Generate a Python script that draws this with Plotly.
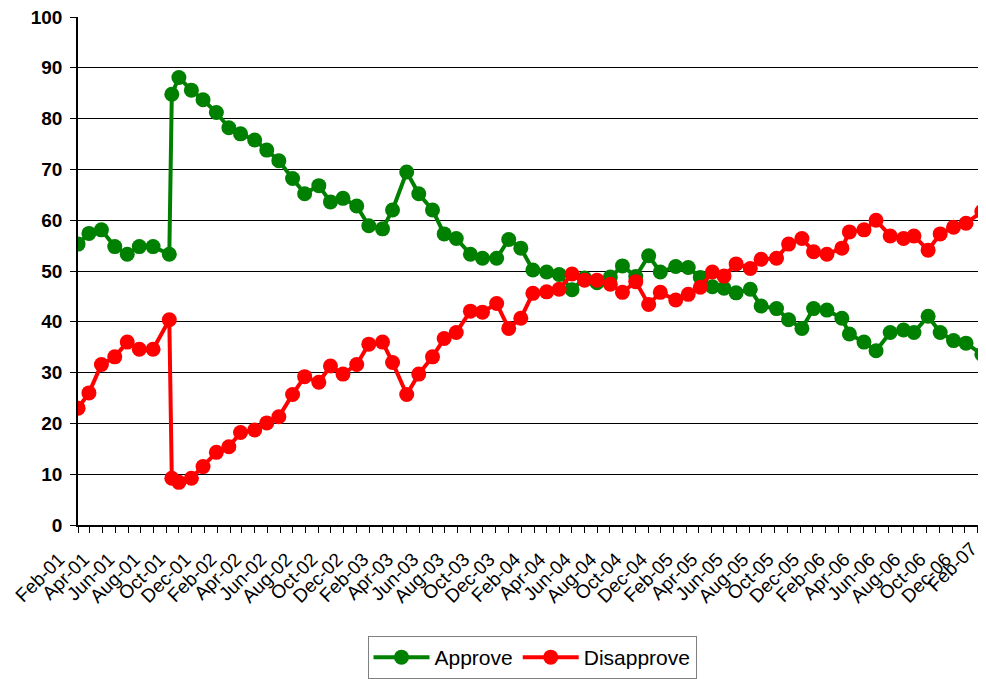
import plotly.graph_objects as go
from datetime import datetime, timedelta

# Poll dates
poll_dates = [
    "2001-02-01", "2001-02-27", "2001-03-29", "2001-04-30", "2001-05-30", "2001-06-28",
    "2001-07-31", "2001-09-08", "2001-09-14", "2001-10-01", "2001-10-31", "2001-11-28",
    "2001-12-30", "2002-01-29", "2002-02-26", "2002-04-01", "2002-04-30", "2002-05-29",
    "2002-07-01", "2002-07-30", "2002-09-02", "2002-09-30", "2002-10-30", "2002-12-02",
    "2002-12-31", "2003-02-02", "2003-02-26", "2003-04-01", "2003-04-30", "2003-06-02",
    "2003-06-30", "2003-07-29", "2003-09-01", "2003-09-30", "2003-11-03", "2003-12-02",
    "2003-12-31", "2004-01-29", "2004-03-02", "2004-04-01", "2004-05-02", "2004-06-01",
    "2004-07-01", "2004-08-02", "2004-08-31", "2004-10-02", "2004-11-02", "2004-11-30",
    "2005-01-06", "2005-02-05", "2005-03-06", "2005-04-04", "2005-05-02", "2005-05-31",
    "2005-07-04", "2005-07-30", "2005-09-05", "2005-10-04", "2005-11-05", "2005-12-03",
    "2006-01-04", "2006-02-09", "2006-02-27", "2006-04-03", "2006-05-02", "2006-06-05",
    "2006-07-07", "2006-08-01", "2006-09-04", "2006-10-03", "2006-11-04", "2006-12-04",
    "2007-01-11",
]

approve = [
    55.3, 57.4, 58.1, 54.8, 53.3, 54.8, 54.8, 53.3, 84.8, 88.1, 85.6, 83.7,
    81.2, 78.2, 77.0, 75.8, 73.8, 71.7, 68.2, 65.2, 66.8, 63.6, 64.3, 62.8,
    58.9, 58.3, 62.0, 69.5, 65.2, 62.0, 57.3, 56.4, 53.3, 52.5, 52.5, 56.2,
    54.5, 50.2, 49.8, 49.3, 46.3, 48.6, 47.7, 48.8, 51.0, 48.9, 53.0, 49.8,
    50.9, 50.7, 48.7, 46.9, 46.6, 45.7, 46.4, 43.1, 42.6, 40.4, 38.7, 42.6,
    42.3, 40.7, 37.6, 36.0, 34.3, 37.9, 38.4, 37.9, 41.1, 37.9, 36.3, 35.8,
    33.6,
]

disapprove = [
    23.0, 26.0, 31.6, 33.1, 36.0, 34.6, 34.6, 40.4, 9.2, 8.4, 9.2, 11.5,
    14.3, 15.4, 18.2, 18.7, 20.1, 21.3, 25.7, 29.2, 28.1, 31.3, 29.7, 31.6,
    35.6, 36.0, 32.0, 25.7, 29.7, 33.1, 36.7, 37.9, 42.1, 41.9, 43.6, 38.7,
    40.7, 45.6, 45.9, 46.4, 49.4, 48.2, 48.2, 47.4, 45.8, 47.9, 43.4, 45.8,
    44.3, 45.4, 46.8, 49.8, 49.0, 51.4, 50.5, 52.3, 52.5, 55.3, 56.4, 53.8,
    53.3, 54.5, 57.7, 58.1, 60.0, 56.9, 56.4, 56.9, 54.1, 57.3, 58.6, 59.4,
    61.7,
]

# x tick label dates (every two months, labelled like "Feb-01")
label_dates = [
    f"{y}-{m:02d}-01" for y in range(2001, 2008) for m in (2, 4, 6, 8, 10, 12)
    if (y, m) <= (2007, 2)
]

y_ticks = [0, 10, 20, 30, 40, 50, 60, 70, 80, 90, 100]

FONT = "Liberation Sans, Arial, sans-serif"
x_start = datetime(2001, 1, 31, 18)
x_end = datetime(2007, 1, 21)
LABEL_SHIFT_PX = -19
label_shift_days = 46  # same shift, expressed in days for the overflow label axis

fig = go.Figure()
fig.add_trace(go.Scatter(
    x=poll_dates, y=approve, name="Approve", mode="lines+markers",
    line=dict(color="#008000", width=4), marker=dict(color="#008000", size=15),
))
fig.add_trace(go.Scatter(
    x=poll_dates, y=disapprove, name="Disapprove", mode="lines+markers",
    line=dict(color="#FF0000", width=4), marker=dict(color="#FF0000", size=15),
))
# invisible carrier so the secondary label axis is drawn
fig.add_trace(go.Scatter(
    x=poll_dates, y=approve, xaxis="x2", mode="lines", opacity=0,
    line=dict(width=0), showlegend=False, hoverinfo="skip",
))

xfont = dict(size=19, family=FONT, color="black")

fig.update_layout(
    width=978, height=671,
    margin=dict(l=70, r=0, t=9, b=154, autoexpand=False),
    paper_bgcolor="white", plot_bgcolor="white",
    font=dict(family=FONT, color="black"),
    showlegend=True,
    legend=dict(
        orientation="h", x=0.5, xanchor="center", y=-0.2185, yanchor="top",
        bordercolor="#808080", borderwidth=1, font=dict(size=21, family=FONT),
        itemwidth=56, tracegroupgap=0,
    ),
    xaxis=dict(
        type="date", range=[x_start.isoformat(), x_end.isoformat()],
        showgrid=False, showline=True, linecolor="black", linewidth=1.5,
        ticks="outside", ticklen=6, tickcolor="black", automargin=False,
        tickmode="array", tickvals=label_dates, tickformat="%b-%y",
        tickangle=-45, tickfont=xfont, ticklabelstandoff=8,
        ticklabelshift=LABEL_SHIFT_PX, ticklabeloverflow="allow",
        minor=dict(dtick="M1", tick0="2001-02-01", ticks="outside", ticklen=6,
                   tickcolor="black", showgrid=False),
        zeroline=False,
    ),
    xaxis2=dict(
        type="date", overlaying="x", anchor="y", side="bottom", automargin=False,
        range=[(x_start + timedelta(days=label_shift_days)).isoformat(),
               (x_end + timedelta(days=label_shift_days)).isoformat()],
        showgrid=False, showline=False, ticks="",
        tickmode="array", tickvals=[d for d in label_dates if d > x_end.strftime("%Y-%m-%d")],
        tickformat="%b-%y", tickangle=-45, tickfont=xfont,
        ticklabelstandoff=8, ticklabeloverflow="allow", zeroline=False,
    ),
    yaxis=dict(
        range=[0, 100], tickvals=y_ticks, showgrid=True, gridcolor="black", gridwidth=1,
        showline=True, linecolor="black", linewidth=1.5, ticks="outside", ticklen=6,
        tickcolor="black", tickfont=dict(size=19, family=FONT, weight="bold"),
        ticklabelstandoff=4, ticklabeloverflow="allow", zeroline=False, automargin=False,
    ),
)

fig.write_html("out.html")
